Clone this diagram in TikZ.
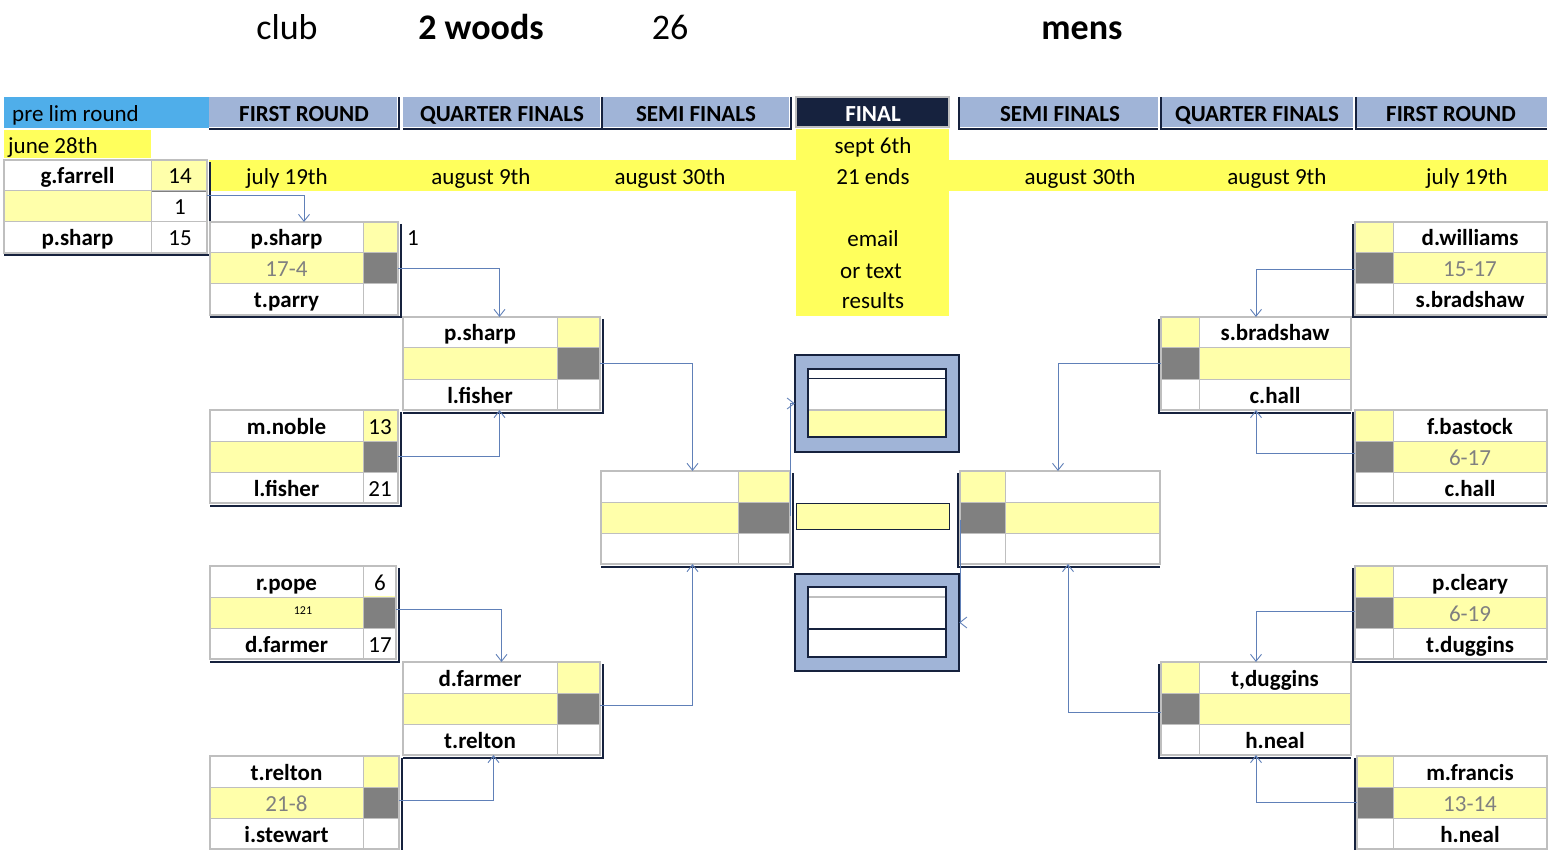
\documentclass[tikz,border=0pt]{standalone}
\usepackage{fontspec}
\setmainfont{Carlito}
\usetikzlibrary{arrows.meta}
\definecolor{hdr}{RGB}{160,180,215}
\definecolor{pblue}{RGB}{79,174,234}
\definecolor{navy}{RGB}{22,34,62}
\definecolor{byel}{RGB}{255,255,92}
\definecolor{ly}{RGB}{255,255,170}
\definecolor{dg}{RGB}{128,128,128}
\definecolor{fgray}{RGB}{191,191,191}
\definecolor{connc}{RGB}{96,128,184}
\definecolor{sgray}{RGB}{128,128,128}
\tikzset{
  frame/.style={draw=fgray, line width=2.5pt, inner sep=0pt, outer sep=0pt},
  cellline/.style={draw=fgray, line width=1pt},
  navyl/.style={draw=navy, line width=2pt},
  txt/.style={font=\fontsize{23}{27}\selectfont, inner sep=0pt, text height=20pt, text depth=3pt},
  nm/.style={txt, font=\fontsize{23}{27}\selectfont\bfseries},
  sc/.style={txt, text=sgray},
  num/.style={txt},
  hd/.style={txt, font=\fontsize{23}{27}\selectfont\bfseries},
  ttl/.style={font=\fontsize{36}{40}\selectfont, inner sep=0pt, text height=28pt, text depth=5pt},
  ttlb/.style={ttl, font=\fontsize{36}{40}\selectfont\bfseries},
  conn/.style={draw=connc, line width=0.9pt, -{Straight Barb[length=7pt,width=11pt]}},
}
% left-type box: narrow score column on the right
\newcommand{\LBox}[8]{%
  \pgfmathsetmacro\bya{#5+31}\pgfmathsetmacro\byb{#5+62}\pgfmathsetmacro\byc{#5+93}%
  \fill[white] (#2,#5) rectangle (#4,\byc);
  \fill[ly] (#2,\bya) rectangle (#3,\byb);
  \fill[ly] (#3,#5) rectangle (#4,\bya);
  \fill[dg] (#3,\bya) rectangle (#4,\byb);
  \draw[cellline] (#2,\bya) -- (#4,\bya) (#2,\byb) -- (#4,\byb) (#3,#5) -- (#3,\byc);
  \draw[navyl] (#4+2.5,#5+2) -- (#4+2.5,\byc+2.5) -- (#2,\byc+2.5);
  \node[frame, minimum width={#4-#2}, minimum height=93] (#1) at ({(#2+#4)/2},{#5+46.5}) {};
  \node[nm] (#1-t) at ({(#2+#3)/2},{#5+15.5}) {#6};
  \node[sc] (#1-m) at ({(#2+#3)/2},{#5+46.5}) {#7};
  \node[nm] (#1-b) at ({(#2+#3)/2},{#5+77.5}) {#8};
}
% right-type box: narrow column on the left
\newcommand{\RBox}[8]{%
  \pgfmathsetmacro\bya{#5+31}\pgfmathsetmacro\byb{#5+62}\pgfmathsetmacro\byc{#5+93}%
  \fill[white] (#2,#5) rectangle (#4,\byc);
  \fill[ly] (#3,\bya) rectangle (#4,\byb);
  \fill[ly] (#2,#5) rectangle (#3,\bya);
  \fill[dg] (#2,\bya) rectangle (#3,\byb);
  \draw[cellline] (#2,\bya) -- (#4,\bya) (#2,\byb) -- (#4,\byb) (#3,#5) -- (#3,\byc);
  \draw[navyl] (#2-2.5,#5+2) -- (#2-2.5,\byc+2.5) -- (#4,\byc+2.5);
  \node[frame, minimum width={#4-#2}, minimum height=93] (#1) at ({(#2+#4)/2},{#5+46.5}) {};
  \node[nm] (#1-t) at ({(#3+#4)/2},{#5+15.5}) {#6};
  \node[sc] (#1-m) at ({(#3+#4)/2},{#5+46.5}) {#7};
  \node[nm] (#1-b) at ({(#3+#4)/2},{#5+77.5}) {#8};
}
\begin{document}
\begin{tikzpicture}[x=1pt,y=-1pt]
\useasboundingbox (0,0) rectangle (1548,850);
% titles
\node[ttl] (tClub) at (287,28) {club};
\node[ttlb] (tWoods) at (481,28) {2 woods};
\node[ttl] (tNum) at (670,28) {26};
\node[ttlb] (tMens) at (1082,28) {mens};
% header row
\fill[pblue] (4,97) rectangle (209,128);
\node[num, anchor=west] (hPre) at (12,113) {pre lim round};
\fill[hdr] (209,97) rectangle (397,127);
\draw[navyl] (398.5,97) -- (398.5,129) -- (209,129);
\node[hd] (hFRl) at (304,113) {FIRST ROUND};
\fill[hdr] (403,97) rectangle (600,127);
\draw[navyl] (601.5,97) -- (601.5,129) -- (403,129);
\node[hd] (hQFl) at (502,113) {QUARTER FINALS};
\fill[hdr] (603,97) rectangle (789,127);
\draw[navyl] (790.5,97) -- (790.5,129) -- (603,129);
\node[hd] (hSFl) at (696,113) {SEMI FINALS};
\fill[navy] (796,97) rectangle (949,127);
\draw[fgray, line width=2pt] (796,97) rectangle (949,127);
\node[hd, text=white] (hFin) at (873,113) {FINAL};
\fill[hdr] (960,97) rectangle (1158,127);
\draw[navyl] (958.5,97) -- (958.5,129) -- (1158,129);
\node[hd] (hSFr) at (1060,113) {SEMI FINALS};
\fill[hdr] (1161,97) rectangle (1353,127);
\draw[navyl] (1160.5,97) -- (1160.5,129) -- (1353,129);
\node[hd] (hQFr) at (1257,113) {QUARTER FINALS};
\fill[hdr] (1356,97) rectangle (1547,127);
\draw[navyl] (1355.5,97) -- (1355.5,129) -- (1547,129);
\node[hd] (hFRr) at (1451,113) {FIRST ROUND};
% dates
\fill[byel] (4,130) rectangle (151,158);
\node[num, anchor=west] (dJune) at (8,145) {june 28th};
\fill[byel] (209,160) rectangle (1548,191);
\fill[byel] (796,129) rectangle (949,316);
\node[num] (dJul1) at (287,176) {july 19th};
\node[num] (dAug1) at (481,176) {august 9th};
\node[num] (dAug2) at (670,176) {august 30th};
\node[num] (dSep) at (873,145) {sept 6th};
\node[num] (dEnds) at (873,176) {21 ends};
\node[num] (dAug3) at (1080,176) {august 30th};
\node[num] (dAug4) at (1277,176) {august 9th};
\node[num] (dJul2) at (1467,176) {july 19th};
\node[num] (fEmail) at (873,238) {email};
\node[num] (fOr) at (871,270) {or text};
\node[num] (fRes) at (873,300) {results};
% preliminary box
\LBox{pre}{4}{151}{207}{160}{g.farrell}{}{p.sharp}
\fill[white] (152,192) rectangle (206,221);
\node[num] (pre-s1) at (180,175.5) {14};
\node[num] (pre-s2) at (180,206.5) {1};
\node[num] (pre-s3) at (180,237.5) {15};
% left first round
\LBox{fa}{210}{363}{398}{222}{p.sharp}{17-4}{t.parry}
\node[num] (faOut) at (413,237.5) {1};
\LBox{fb}{210}{363}{398}{410}{m.noble}{}{l.fisher}
\node[num] (fb-s1) at (380,425.5) {13};
\node[num] (fb-s3) at (380,487.5) {21};
\LBox{fc}{210}{363}{396}{566}{r.pope}{}{d.farmer}
\node[inner sep=0pt, font=\fontsize{12}{14}\selectfont] (fc-x) at (303,611) {121};
\fill[white] (364,567) rectangle (395,596);
\node[num] (fc-s1) at (380,581.5) {6};
\node[num] (fc-s3) at (380,643.5) {17};
\LBox{fd}{210}{363}{399}{756}{t.relton}{21-8}{i.stewart}
% left quarter finals
\LBox{qa}{403}{557}{600}{317}{p.sharp}{}{l.fisher}
\LBox{qb}{403}{557}{600}{662}{d.farmer}{}{t.relton}
% left semi
\LBox{sl}{601}{738}{790}{471}{}{}{}
% final
\fill[hdr] (795,355) rectangle (959,452);
\draw[navy, line width=2pt] (795,355) rectangle (959,452);
\fill[white] (808,369) rectangle (946,437);
\fill[ly] (808,410) rectangle (946,437);
\draw[navy, line width=1pt] (808,378) -- (946,378);
\draw[fgray, line width=1.5pt] (808,410) -- (946,410);
\draw[navy, line width=2pt] (808,369) rectangle (946,437);
\node[inner sep=0pt, minimum width=164, minimum height=97] (finT) at (877,403.5) {};
\fill[ly] (796,503) rectangle (949,529);
\draw[navy, line width=1pt] (796,503) rectangle (949,529);
\node[inner sep=0pt, minimum width=153, minimum height=26] (finM) at (872.5,516) {};
\fill[hdr] (795,574) rectangle (959,671);
\draw[navy, line width=2pt] (795,574) rectangle (959,671);
\fill[white] (808,587) rectangle (946,657);
\draw[fgray, line width=1.5pt] (808,597) -- (946,597);
\draw[navy, line width=1.5pt] (808,629) -- (946,629);
\draw[navy, line width=2pt] (808,587) rectangle (946,657);
\node[inner sep=0pt, minimum width=164, minimum height=97] (finB) at (877,622.5) {};
% right semi
\RBox{sr}{960}{1005}{1160}{471}{}{}{}
% right quarter finals
\RBox{qc}{1161}{1199}{1351}{317}{s.bradshaw}{}{c.hall}
\RBox{qd}{1161}{1199}{1351}{662}{t,duggins}{}{h.neal}
% right first round
\RBox{fe}{1355}{1393}{1547}{222}{d.williams}{15-17}{s.bradshaw}
\RBox{ff}{1355}{1393}{1547}{410}{f.bastock}{6-17}{c.hall}
\RBox{fg}{1355}{1393}{1547}{566}{p.cleary}{6-19}{t.duggins}
\RBox{fh}{1357}{1393}{1547}{756}{m.francis}{13-14}{h.neal}
% connectors left
\draw[conn] ([yshift=11pt]pre.east) -| (fa.north);
\draw[conn] (fa.east) -| ([xshift=-2pt]qa.north);
\draw[conn] (fb.east) -| ([xshift=-2pt]qa.south);
\draw[conn] (qa.east) -| ([xshift=-3pt]sl.north);
\draw[conn] ([yshift=3pt]fc.east) -| (qb.north);
\draw[conn] ([yshift=2pt]fd.east) -| ([xshift=-8pt]qb.south);
\draw[conn] ([yshift=3pt]qb.east) -| ([xshift=-3pt]sl.south);
\draw[conn] ([yshift=2pt]sl.east) |- (finT.west);
% connectors right
\draw[conn] ([yshift=-1pt]fe.west) -| (qc.north);
\draw[conn] ([yshift=3pt]ff.west) -| (qc.south);
\draw[conn] (qc.west) -| ([xshift=-2pt]sr.north);
\draw[conn] ([yshift=1pt]fg.west) -| (qd.north);
\draw[conn] (fh.west) -| (qd.south);
\draw[conn] ([yshift=-4pt]qd.west) -| ([xshift=8pt]sr.south);
\draw[conn] ([yshift=-2pt]sr.west) |- (finB.east);
\end{tikzpicture}
\end{document}
